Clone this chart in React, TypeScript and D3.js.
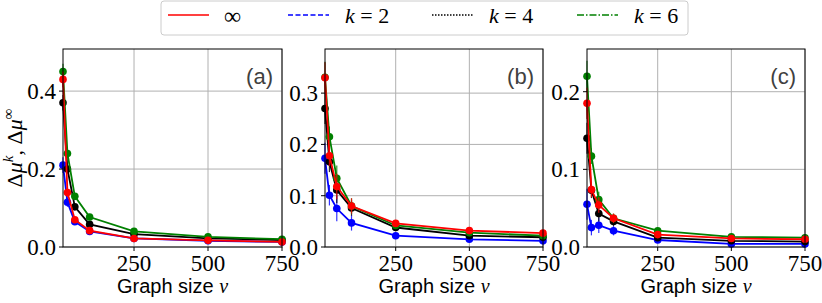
import * as d3 from "d3";

// graph sizes (x values shared by all panels)
const nu = [10, 25, 50, 100, 250, 500, 750];
const xTicks = [250, 500, 750];

// panel (a)
const infA = [0.43, 0.14, 0.07, 0.042, 0.022, 0.017, 0.013];
const k2A = [0.21, 0.115, 0.065, 0.04, 0.022, 0.016, 0.013];
const k4A = [0.37, 0.2, 0.103, 0.058, 0.033, 0.022, 0.018];
const k6A = [0.45, 0.24, 0.13, 0.077, 0.04, 0.026, 0.02];
const errA = [0.02, 0.012, 0.008, 0.005, 0.003, 0.002, 0.002];

// panel (b)
const infB = [0.33, 0.178, 0.118, 0.08, 0.046, 0.032, 0.027];
const k2B = [0.173, 0.101, 0.075, 0.047, 0.022, 0.015, 0.012];
const k4B = [0.27, 0.166, 0.111, 0.076, 0.038, 0.022, 0.019];
const k6B = [0.331, 0.215, 0.134, 0.08, 0.042, 0.028, 0.022];
const errB = [0.03, 0.02, 0.025, 0.015, 0.004, 0.003, 0.002];

// panel (c)
const infC = [0.185, 0.074, 0.054, 0.037, 0.016, 0.011, 0.01];
const k2C = [0.055, 0.025, 0.028, 0.021, 0.009, 0.004, 0.004];
const k4C = [0.14, 0.073, 0.043, 0.033, 0.012, 0.008, 0.007];
const k6C = [0.22, 0.117, 0.061, 0.037, 0.021, 0.013, 0.012];
const errC = [0.02, 0.01, 0.01, 0.006, 0.002, 0.002, 0.001];

const colors: Record<string, string> = { inf: "#ff0000", k2: "#0000ff", k4: "#000000", k6: "#008000" };
const dashes: Record<string, string> = { inf: "none", k2: "5,2.5", k4: "1.5,1.5", k6: "7,2,1.5,2" };
const drawOrder = ["k2", "k4", "k6", "inf"];

const panels = [
  { label: "(a)", left: 63, right: 282, yMax: 0.508, yTicks: [0, 0.2, 0.4], data: { inf: infA, k2: k2A, k4: k4A, k6: k6A }, err: errA },
  { label: "(b)", left: 325, right: 543, yMax: 0.386, yTicks: [0, 0.1, 0.2, 0.3], data: { inf: infB, k2: k2B, k4: k4B, k6: k6B }, err: errB },
  { label: "(c)", left: 587, right: 805, yMax: 0.255, yTicks: [0, 0.1, 0.2], data: { inf: infC, k2: k2C, k4: k4C, k6: k6C }, err: errC },
];

const top = 49;
const bottom = 247;
const serif = "Liberation Serif, Times New Roman, serif";
const sans = "Liberation Sans, Arial, sans-serif";

function Panel({ p }: { p: (typeof panels)[number] }) {
  const x = d3.scaleLinear().domain([10, 750]).range([p.left, p.right]);
  const y = d3.scaleLinear().domain([0, p.yMax]).range([bottom, top]);
  const line = d3
    .line<number>()
    .x((_, i) => x(nu[i]))
    .y(d => y(d));
  const fmt = d3.format(".1f");

  return (
    <g>
      {/* grid */}
      {xTicks.map(t => (
        <line key={"gx" + t} x1={x(t)} x2={x(t)} y1={top} y2={bottom} stroke="#b0b0b0" strokeWidth={1} />
      ))}
      {p.yTicks.map(t => (
        <line key={"gy" + t} x1={p.left} x2={p.right} y1={y(t)} y2={y(t)} stroke="#b0b0b0" strokeWidth={1} />
      ))}

      {/* series */}
      {drawOrder.map(name => {
        const vals = (p.data as Record<string, number[]>)[name];
        const c = colors[name];
        return (
          <g key={name}>
            {vals.map((v, i) => (
              <line
                key={"e" + i}
                x1={x(nu[i])}
                x2={x(nu[i])}
                y1={y(Math.max(0, v - p.err[i]))}
                y2={y(v + p.err[i])}
                stroke={c}
                strokeWidth={1.2}
                opacity={0.8}
              />
            ))}
            <path d={line(vals) ?? ""} fill="none" stroke={c} strokeWidth={1.8} />
            {vals.map((v, i) => (
              <circle key={"m" + i} cx={x(nu[i])} cy={y(v)} r={3.8} fill={c} />
            ))}
          </g>
        );
      })}

      {/* spines */}
      <rect x={p.left} y={top} width={p.right - p.left} height={bottom - top} fill="none" stroke="#000" strokeWidth={1} />

      {/* x ticks */}
      {xTicks.map(t => (
        <g key={"tx" + t}>
          <line x1={x(t)} x2={x(t)} y1={bottom} y2={bottom + 4} stroke="#000" />
          <text x={x(t)} y={271} textAnchor="middle" fontFamily={serif} fontSize={23} fill="#000">
            {t}
          </text>
        </g>
      ))}
      {/* y ticks */}
      {p.yTicks.map(t => (
        <g key={"ty" + t}>
          <line x1={p.left - 4} x2={p.left} y1={y(t)} y2={y(t)} stroke="#000" />
          <text x={p.left - 7} y={y(t) + 8} textAnchor="end" fontFamily={serif} fontSize={23} fill="#000">
            {fmt(t)}
          </text>
        </g>
      ))}

      <text x={p.right - 9} y={84} textAnchor="end" fontFamily={sans} fontSize={22} fill="#404040">
        {p.label}
      </text>

      <text x={(p.left + p.right) / 2} y={293} textAnchor="middle" fontFamily={sans} fontSize={20} fill="#000">
        Graph size <tspan fontFamily={serif} fontStyle="italic">ν</tspan>
      </text>
    </g>
  );
}

const legendItems = [
  { name: "inf", label: "∞", x: 168 },
  { name: "k2", label: "2", x: 288 },
  { name: "k4", label: "4", x: 432 },
  { name: "k6", label: "6", x: 577 },
];

export default function App() {
  return (
    <svg width={822} height={303} style={{ position: "absolute", left: 0, top: 0, background: "#fff" }}>
      {panels.map(p => (
        <Panel key={p.label} p={p} />
      ))}

      {/* y label */}
      <text transform="translate(22,148) rotate(-90)" textAnchor="middle" fontFamily={serif} fontSize={22} fill="#000">
        Δ<tspan fontStyle="italic">μ</tspan>
        <tspan fontStyle="italic" fontSize={15} dy={-9}>k</tspan>
        <tspan dy={9}>, Δ</tspan>
        <tspan fontStyle="italic">μ</tspan>
        <tspan fontSize={15} dy={-9}>∞</tspan>
      </text>

      {/* legend */}
      <rect x={161} y={1} width={527} height={34} rx={3} fill="#fff" stroke="#cccccc" strokeWidth={1} />
      {legendItems.map(it => (
        <g key={it.name}>
          <line
            x1={it.x}
            x2={it.x + 41}
            y1={15}
            y2={15}
            stroke={colors[it.name]}
            strokeWidth={1.5}
            strokeDasharray={dashes[it.name]}
          />
          {it.name === "inf" ? (
            <text x={it.x + 56} y={24} fontFamily={serif} fontSize={24} fill="#000">
              ∞
            </text>
          ) : (
            <text x={it.x + 57} y={23} fontFamily={serif} fontSize={22} fill="#000">
              <tspan fontStyle="italic">k</tspan> = {it.label}
            </text>
          )}
        </g>
      ))}
    </svg>
  );
}
